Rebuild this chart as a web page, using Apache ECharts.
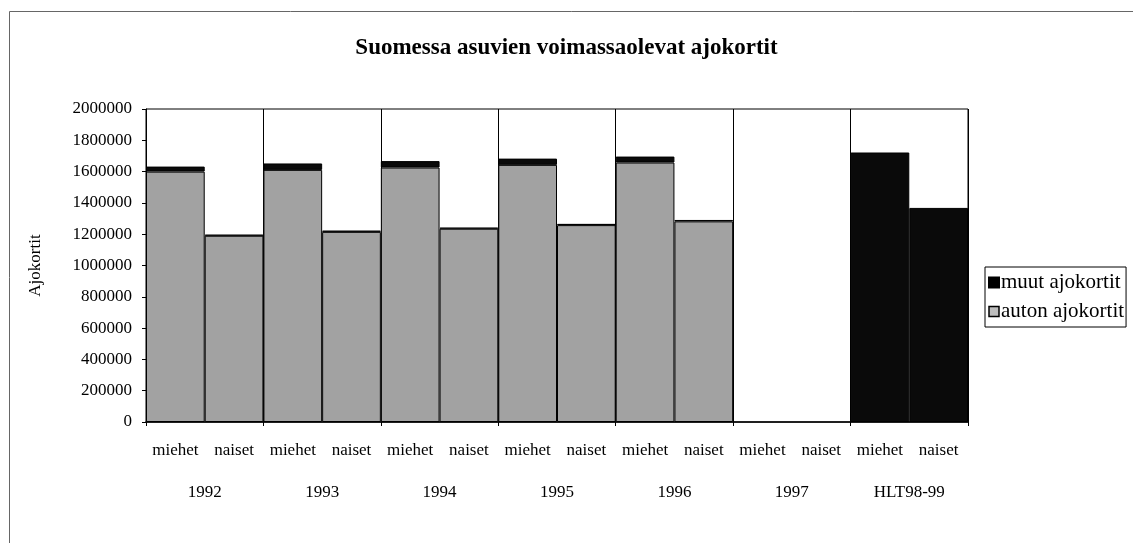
<!DOCTYPE html>
<html>
<head>
<meta charset="utf-8">
<script src="https://cdn.jsdelivr.net/npm/echarts@6/dist/echarts.min.js"></script>
<style>
  html, body { margin: 0; padding: 0; background: #fff; }
  #chart { width: 1133px; height: 543px; }
</style>
</head>
<body>
<div id="chart"></div>
<script>
const genders = ['miehet', 'naiset', 'miehet', 'naiset', 'miehet', 'naiset', 'miehet', 'naiset',
  'miehet', 'naiset', 'miehet', 'naiset', 'miehet', 'naiset']
const years = ['1992', '1993', '1994', '1995', '1996', '1997', 'HLT98-99']

// auton ajokortit (grey part)
const autonAjokortit = [1600000, 1190000, 1611000, 1215000, 1626000, 1235000,
  1643000, 1258000, 1658000, 1282000, null, null, null, null]
// muut ajokortit (black part); HLT98-99 bars drawn fully dark
const muutAjokortit = [32000, 7000, 41000, 8000, 41000, 7000,
  40000, 8000, 38000, 9000, null, null, 1722000, 1368000]

const font = 'Liberation Serif'

const chart = echarts.init(document.getElementById('chart'))

chart.setOption({
  backgroundColor: '#fff',
  animation: false,
  textStyle: { fontFamily: font, color: '#000' },
  title: {
    text: 'Suomessa asuvien voimassaolevat ajokortit',
    left: 'center',
    top: 32,
    textStyle: { fontFamily: font, fontSize: 23, fontWeight: 'bold', color: '#000' }
  },
  graphic: [{
    type: 'rect',
    left: 7,
    top: 9,
    shape: { width: 1140, height: 532 },
    style: { fill: 'none', stroke: '#666', lineWidth: 1 },
    silent: true
  }],
  legend: {
    orient: 'vertical',
    left: 985,
    top: 267,
    data: [
      { name: 'muut ajokortit', itemStyle: { color: '#000' } },
      { name: 'auton ajokortit', itemStyle: { color: '#bdbdbd', borderColor: '#000', borderWidth: 1.5 } }
    ],
    icon: 'rect',
    itemWidth: 10,
    itemHeight: 10,
    itemGap: 8,
    padding: [5, 2, 5, 3],
    borderColor: '#000',
    borderWidth: 1,
    textStyle: { fontFamily: font, fontSize: 21, color: '#000', padding: [0, 0, 0, -3] }
  },
  grid: {
    left: 146,
    right: 165,
    top: 109,
    bottom: 121,
    show: true,
    borderColor: '#000',
    borderWidth: 1
  },
  xAxis: [
    {
      type: 'category',
      data: genders,
      axisLine: { lineStyle: { color: '#000', width: 1.5 } },
      axisTick: { show: false },
      axisLabel: { fontFamily: font, fontSize: 17, color: '#000', margin: 20, interval: 0 }
    },
    {
      type: 'category',
      data: years,
      position: 'bottom',
      axisLine: { show: false },
      axisTick: { show: true, length: 4, lineStyle: { color: '#000' } },
      axisLabel: { fontFamily: font, fontSize: 17, color: '#000', margin: 62, interval: 0 },
      splitLine: { show: true, lineStyle: { color: '#000', width: 1 } }
    }
  ],
  yAxis: {
    type: 'value',
    min: 0,
    max: 2000000,
    interval: 200000,
    name: 'Ajokortit',
    nameLocation: 'middle',
    nameGap: 102,
    nameTextStyle: { fontFamily: font, fontSize: 17, color: '#000' },
    axisLine: { show: true, lineStyle: { color: '#000', width: 1 } },
    axisTick: { show: true, length: 4, lineStyle: { color: '#000' } },
    axisLabel: { fontFamily: font, fontSize: 17, color: '#000', margin: 14, formatter: v => String(v) },
    splitLine: { show: false }
  },
  series: [
    {
      name: 'auton ajokortit',
      type: 'bar',
      stack: 'total',
      xAxisIndex: 0,
      data: autonAjokortit,
      barCategoryGap: '0%',
      itemStyle: { color: '#a2a2a2', borderColor: '#000', borderWidth: 1 }
    },
    {
      name: 'muut ajokortit',
      type: 'bar',
      stack: 'total',
      xAxisIndex: 0,
      data: muutAjokortit,
      barCategoryGap: '0%',
      itemStyle: { color: '#0a0a0a', borderColor: '#000', borderWidth: 1 }
    }
  ]
})
</script>
</body>
</html>
